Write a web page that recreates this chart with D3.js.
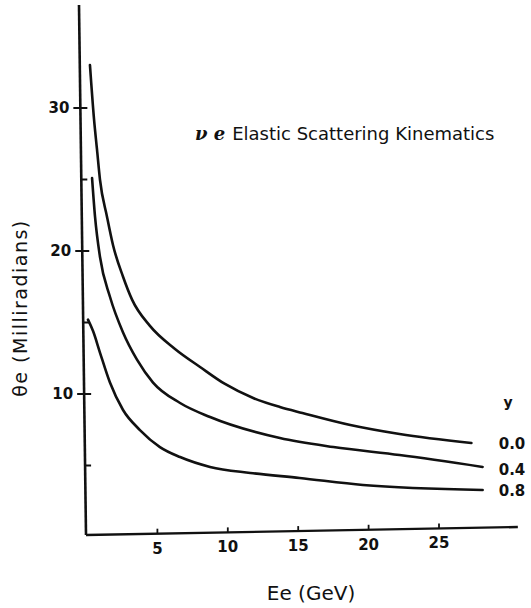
<!DOCTYPE html>
<html><head><meta charset="utf-8">
<script src="https://cdn.jsdelivr.net/npm/d3@7"></script>
<style>body{margin:0;background:#fff}svg{display:block}text{font-family:"DejaVu Sans",sans-serif;fill:#111}</style>
</head><body>
<svg id="c" width="531" height="608"></svg>
<script>
// data: Ee (GeV) vs theta_e (milliradians)
const seriesNames = ["0.0", "0.4", "0.8"];
const E_y00 = [0.21, 0.50, 0.71, 0.92, 1.42, 1.85, 2.56, 3.20, 4.47, 6.25, 8.03, 9.80, 11.8, 13.7, 15.3, 18.7, 22.2, 27.3];
const T_y00 = [33.0, 29.2, 27.1, 25.0, 22.4, 20.4, 18.2, 16.6, 14.76, 13.15, 11.89, 10.70, 9.72, 9.09, 8.67, 7.83, 7.2, 6.57];
const E_y04 = [0.36, 0.57, 0.92, 1.63, 2.56, 3.55, 4.69, 6.61, 8.74, 13.7, 17.5, 22.2, 28.1];
const T_y04 = [25.1, 22.4, 19.6, 16.8, 14.3, 12.4, 10.8, 9.37, 8.39, 6.92, 6.29, 5.73, 4.9];
const E_y08 = [0.07, 0.43, 0.92, 1.63, 2.56, 3.76, 5.18, 6.61, 8.74, 11.6, 15.1, 19.6, 28.1];
const T_y08 = [15.2, 14.4, 12.9, 10.8, 8.88, 7.48, 6.29, 5.59, 4.9, 4.48, 4.13, 3.64, 3.29];
const xTicks = [5, 10, 15, 20, 25];
const yMajor = [10, 20, 30];
const yMinor = [5, 15, 25];

const svg = d3.select("#c");
const x = d3.scaleLinear().domain([0, 30]).range([87, 509.4]);
const y = d3.scaleLinear().domain([0, 30]).range([537, 108]);

const series = [
  {name: seriesNames[0], E: E_y00, T: T_y00},
  {name: seriesNames[1], E: E_y04, T: T_y04},
  {name: seriesNames[2], E: E_y08, T: T_y08}
];

// axes (slightly skewed like the hand-drawn original)
svg.append("path").attr("d", `M${x(0)-8},5 L${x(0)-1},${y(0)-2}`)
  .attr("stroke", "#111").attr("stroke-width", 2.6).attr("fill", "none");
svg.append("path").attr("d", `M${x(0)-1},${y(0)-2} L${x(30.6)},${y(0)-10}`)
  .attr("stroke", "#111").attr("stroke-width", 2.4).attr("fill", "none");

const yAxisX = v => x(0) - 8 + 7 * (y(v) - 5) / (y(0) - 7);
yMajor.forEach(v => {
  const ax = yAxisX(v);
  svg.append("line").attr("x1", ax - 7).attr("x2", ax + 7).attr("y1", y(v)).attr("y2", y(v))
    .attr("stroke", "#111").attr("stroke-width", 2);
  svg.append("text").attr("x", ax - 11).attr("y", y(v)).attr("dy", "0.36em")
    .attr("text-anchor", "end").attr("font-size", 15).attr("font-weight", "bold").text(v);
});
yMinor.forEach(v => {
  const ax = yAxisX(v);
  svg.append("line").attr("x1", ax).attr("x2", ax + 6).attr("y1", y(v)).attr("y2", y(v))
    .attr("stroke", "#111").attr("stroke-width", 2);
});
const xAxisY = v => y(0) - 2 - 8 * (x(v) - x(0)) / (x(30.6) - x(0));
xTicks.forEach(v => {
  const ay = xAxisY(v);
  svg.append("line").attr("x1", x(v)).attr("x2", x(v)).attr("y1", ay).attr("y2", ay - 5)
    .attr("stroke", "#111").attr("stroke-width", 1.8);
  svg.append("text").attr("x", x(v)).attr("y", ay + 20).attr("text-anchor", "middle")
    .attr("font-size", 15).attr("font-weight", "bold").text(v);
});

// curves
const line = d3.line().x(d => x(d[0])).y(d => y(d[1])).curve(d3.curveMonotoneX);
series.forEach(s => {
  const pts = s.E.map((e, i) => [e, s.T[i]]);
  svg.append("path").attr("d", line(pts)).attr("fill", "none")
    .attr("stroke", "#111").attr("stroke-width", 2.6).attr("stroke-linecap", "round");
});

// series labels
svg.append("text").attr("x", 508).attr("y", 407).attr("text-anchor", "middle")
  .attr("font-size", 14).attr("font-weight", "bold").text("y");
const labY = [449, 475, 496];
series.forEach((s, i) => {
  svg.append("text").attr("x", 512).attr("y", labY[i]).attr("text-anchor", "middle")
    .attr("font-size", 15).attr("font-weight", "bold").text(s.name);
});

// title
const t = svg.append("text").attr("x", 195).attr("y", 140).attr("font-size", 18);
t.append("tspan").attr("font-style", "italic").attr("font-weight", "bold").attr("font-family", "DejaVu Serif").text("ν e");
t.append("tspan").attr("dx", 7).text("Elastic  Scattering Kinematics");

// axis titles
svg.append("text").attr("x", 311).attr("y", 600).attr("text-anchor", "middle")
  .attr("font-size", 20).text("Ee (GeV)");
svg.append("text").attr("transform", "translate(27,308) rotate(-90)").attr("text-anchor", "middle")
  .attr("font-size", 19).attr("letter-spacing", 1.5).text("θe (Milliradians)");
</script>
</body></html>
